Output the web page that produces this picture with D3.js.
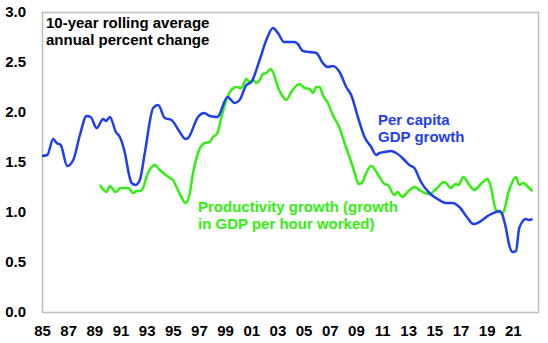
<!DOCTYPE html>
<html>
<head>
<meta charset="utf-8">
<script src="https://cdn.jsdelivr.net/npm/d3@7"></script>
<style>
  body { margin: 0; background: #fff; }
  svg { display: block; font-family: "Liberation Sans", Arial, sans-serif; }
  .tick text { font-size: 15px; font-weight: bold; fill: #000; }
</style>
</head>
<body>
<svg id="chart" width="548" height="343"></svg>
<script>
// 10-year rolling averages, annual % change (decimal years)
const gdpYears = [1985.0, 1985.4, 1985.86, 1986.12, 1986.43, 1986.93, 1987.39, 1987.9, 1988.41, 1988.72,
  1989.18, 1989.68, 1989.89, 1990.19, 1990.65, 1990.95, 1991.34, 1991.66, 1991.85, 1992.15,
  1992.48, 1992.86, 1993.5, 1993.88, 1994.39, 1994.9, 1995.53, 1995.97, 1996.17, 1996.93,
  1997.39, 1997.82, 1998.41, 1999.18, 1999.73, 2000.11, 2000.63, 2001.01, 2001.64, 2002.15,
  2002.66, 2003.04, 2003.5, 2004.31, 2004.56, 2004.95, 2005.46, 2005.97, 2006.47, 2006.86,
  2007.24, 2007.75, 2008.26, 2008.64, 2009.15, 2009.66, 2010.17, 2010.55, 2010.8, 2011.18,
  2011.69, 2012.08, 2012.71, 2013.09, 2013.47, 2013.98, 2014.62, 2015.25, 2015.89, 2016.4,
  2016.91, 2017.54, 2017.98, 2018.44, 2019.2, 2019.71, 2019.96, 2020.14, 2020.47, 2020.72,
  2020.98, 2021.24, 2021.49, 2022.0, 2022.2, 2022.5];
const gdpGrowth = [1.56, 1.57, 1.73, 1.69, 1.67, 1.46, 1.52, 1.77, 1.96, 1.95,
  1.84, 1.93, 1.91, 1.95, 1.80, 1.75, 1.59, 1.37, 1.29, 1.27,
  1.32, 1.59, 2.04, 2.07, 1.94, 1.92, 1.80, 1.73, 1.74, 1.95,
  1.99, 1.96, 1.95, 2.15, 2.09, 2.12, 2.27, 2.30, 2.52, 2.72,
  2.84, 2.79, 2.70, 2.70, 2.68, 2.61, 2.60, 2.59, 2.49, 2.45,
  2.46, 2.40, 2.25, 2.17, 1.95, 1.75, 1.65, 1.57, 1.59, 1.60,
  1.61, 1.59, 1.52, 1.47, 1.44, 1.30, 1.19, 1.13, 1.09, 1.09,
  1.05, 0.94, 0.88, 0.90, 0.97, 1.00, 1.01, 0.99, 0.84, 0.67,
  0.60, 0.61, 0.84, 0.93, 0.92, 0.93];

const prodYears = [1989.43, 1989.94, 1990.19, 1990.63, 1991.01, 1991.59, 1991.97, 1992.23, 1992.48, 1992.73,
  1992.99, 1993.63, 1994.01, 1994.77, 1995.02, 1995.28, 1995.66, 1995.97, 1996.24, 1996.55,
  1996.93, 1997.44, 1997.82, 1998.08, 1998.41, 1998.72, 1999.1, 1999.48, 1999.86, 2000.24,
  2000.63, 2000.88, 2001.13, 2001.39, 2001.64, 2001.89, 2002.15, 2002.48, 2002.66, 2003.04,
  2003.5, 2003.68, 2004.06, 2004.69, 2005.08, 2005.46, 2005.71, 2005.97, 2006.22, 2006.47,
  2006.86, 2007.24, 2007.75, 2008.13, 2008.51, 2008.89, 2009.2, 2009.45, 2009.79, 2010.17,
  2010.8, 2011.18, 2011.44, 2011.95, 2012.2, 2012.53, 2012.96, 2013.47, 2013.98, 2014.62,
  2015.13, 2015.76, 2016.27, 2016.6, 2016.85, 2017.21, 2017.67, 2018.05, 2018.56, 2019.07,
  2019.32, 2019.71, 2020.21, 2020.72, 2021.24, 2021.49, 2021.79, 2022.25, 2022.5];
const prodGrowth = [1.27, 1.20, 1.26, 1.20, 1.24, 1.24, 1.19, 1.21, 1.21, 1.24,
  1.35, 1.47, 1.42, 1.34, 1.32, 1.25, 1.15, 1.09, 1.15, 1.39,
  1.59, 1.69, 1.70, 1.75, 1.79, 1.95, 2.12, 2.22, 2.25, 2.24,
  2.33, 2.30, 2.32, 2.29, 2.32, 2.38, 2.39, 2.43, 2.40, 2.25,
  2.14, 2.12, 2.20, 2.28, 2.24, 2.23, 2.19, 2.25, 2.25, 2.17,
  2.09, 1.97, 1.84, 1.69, 1.55, 1.40, 1.28, 1.29, 1.39, 1.46,
  1.35, 1.28, 1.27, 1.17, 1.20, 1.15, 1.20, 1.25, 1.21, 1.18,
  1.23, 1.30, 1.24, 1.28, 1.27, 1.35, 1.27, 1.22, 1.28, 1.33,
  1.25, 1.02, 0.99, 1.22, 1.35, 1.27, 1.29, 1.24, 1.21];

const xTickYears = d3.range(1985, 2022, 2);
const yTicks = [0, 0.5, 1, 1.5, 2, 2.5, 3];

const blue = '#1f3ef0';
const green = '#33ee11';

const plotLeft = 42, plotRight = 539, plotTop = 12, plotBottom = 312;

const svg = d3.select('#chart');

const x = d3.scaleLinear().domain([1985, 2023]).range([plotLeft, plotRight]);
const y = d3.scaleLinear().domain([0, 3]).range([plotBottom, plotTop]);

// plot frame
svg.append('rect')
  .attr('x', plotLeft + 0.5).attr('y', plotTop + 0.5)
  .attr('width', plotRight - plotLeft - 1).attr('height', plotBottom - plotTop)
  .attr('fill', 'none')
  .attr('stroke', '#bdbdbd')
  .attr('stroke-width', 1.5);

svg.append('g')
  .attr('transform', `translate(${plotLeft},0)`)
  .call(d3.axisLeft(y).tickValues(yTicks).tickSize(0).tickPadding(16).tickFormat(d3.format('.1f')))
  .call(g => g.select('.domain').remove());

svg.append('g')
  .attr('transform', `translate(0,${plotBottom})`)
  .call(d3.axisBottom(x).tickValues(xTickYears).tickSize(0).tickPadding(13)
    .tickFormat(d => String(d).slice(2)))
  .call(g => g.select('.domain').remove());

const line = d3.line()
  .x(d => x(d[0]))
  .y(d => y(d[1]))
  .curve(d3.curveMonotoneX);

svg.append('path')
  .datum(d3.zip(prodYears, prodGrowth))
  .attr('fill', 'none')
  .attr('stroke', green)
  .attr('stroke-width', 2.5)
  .attr('stroke-linejoin', 'round')
  .attr('d', line);

svg.append('path')
  .datum(d3.zip(gdpYears, gdpGrowth))
  .attr('fill', 'none')
  .attr('stroke', blue)
  .attr('stroke-width', 2.5)
  .attr('stroke-linejoin', 'round')
  .attr('d', line);

// labels
function label(lines, px, py, color) {
  const t = svg.append('text')
    .attr('x', px).attr('y', py)
    .attr('fill', color)
    .style('font-size', '15px')
    .style('font-weight', 'bold');
  lines.forEach((s, i) => {
    t.append('tspan').attr('x', px).attr('dy', i === 0 ? 0 : 17).text(s);
  });
}

label(['10-year rolling average', 'annual percent change'], 46, 28, '#000');
label(['Per capita', 'GDP growth'], 378, 125, blue);
label(['Productivity growth (growth', 'in GDP per hour worked)'], 198, 212, green);
</script>
</body>
</html>
